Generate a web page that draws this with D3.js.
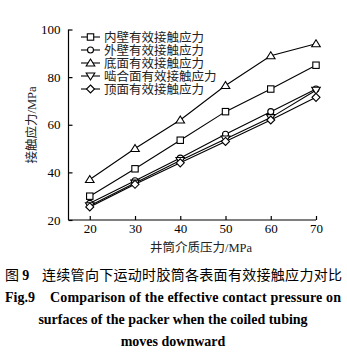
<!DOCTYPE html>
<html><head><meta charset="utf-8">
<script src="https://cdn.jsdelivr.net/npm/d3@7"></script>
<style>
body{margin:0;background:#fff;}
svg{display:block;}
</style></head>
<body>
<svg id="c" width="347" height="354"></svg>
<script>
const pressures = [20, 30, 40, 50, 60, 70];
const innerWall = [30, 41.5, 53.5, 65.5, 75, 85];
const outerWall = [27, 36.5, 46, 56, 65.5, 75];
const bottomFace = [37, 50, 62, 76.5, 89, 94];
const meshFace = [26, 35.5, 45, 54, 63, 74.5];
const topFace = [25.5, 35, 44, 53, 62, 71.5];
const seriesNames = ["内壁有效接触应力", "外壁有效接触应力", "底面有效接触应力", "啮合面有效接触应力", "顶面有效接触应力"];
const markers = ["square", "circle", "triangle", "down", "diamond"];
const xTicks = [20, 30, 40, 50, 60, 70];
const yTicks = [20, 40, 60, 80, 100];
const xLabel = "井筒介质压力/MPa";
const yLabel = "接触应力/MPa";
const captionCN = "连续管向下运动时胶筒各表面有效接触应力对比";
const captionEN = ["Comparison of the effective contact pressure on", "surfaces of the packer when the coiled tubing", "moves downward"];

const seriesData = [innerWall, outerWall, bottomFace, meshFace, topFace];
const svg = d3.select("#c");
const serif = "'Liberation Serif','Times New Roman',serif";
const cjk = "'Liberation Serif','Noto Sans CJK SC',serif";

const x = d3.scaleLinear().domain([15.3, 70]).range([68.5, 316]);
const y = d3.scaleLinear().domain([20, 100]).range([220, 29.5]);

const g = svg.append("g");
const xa = g.append("g").attr("transform", "translate(0,220)")
  .call(d3.axisBottom(x).tickValues(xTicks).tickSize(-4).tickPadding(4).tickSizeOuter(0));
const ya = g.append("g").attr("transform", "translate(68.5,0)")
  .call(d3.axisLeft(y).tickValues(yTicks).tickSize(-4).tickPadding(8).tickSizeOuter(0));
[xa, ya].forEach(a => {
  a.selectAll("path,line").attr("stroke", "#000").attr("stroke-width", 1.2);
  a.selectAll("text").attr("font-family", serif).attr("font-size", 13).attr("fill", "#000");
});
xa.select("path").attr("d", `M${68.5},0H${316}`);
ya.select("path").attr("d", `M0,${220}V${29.5}`);

g.append("text").attr("x", 201).attr("y", 252).attr("text-anchor", "middle")
  .attr("font-family", cjk).attr("font-size", 12.5).attr("fill", "#222").text(xLabel);
g.append("text").attr("transform", "translate(36,125) rotate(-90)").attr("text-anchor", "middle")
  .attr("font-family", cjk).attr("font-size", 12.5).attr("fill", "#222").text(yLabel);

function drawMarker(sel, type, cx, cy) {
  const s = 3.2;
  let el;
  if (type === "square") el = sel.append("rect").attr("x", cx - s).attr("y", cy - s).attr("width", 2 * s).attr("height", 2 * s);
  else if (type === "circle") el = sel.append("circle").attr("cx", cx).attr("cy", cy).attr("r", 3);
  else if (type === "triangle") el = sel.append("path").attr("d", `M${cx},${cy - 4}L${cx + 4.3},${cy + 3}L${cx - 4.3},${cy + 3}Z`);
  else if (type === "down") el = sel.append("path").attr("d", `M${cx},${cy + 4}L${cx + 4.3},${cy - 3}L${cx - 4.3},${cy - 3}Z`);
  else el = sel.append("path").attr("d", `M${cx},${cy - 4}L${cx + 4},${cy}L${cx},${cy + 4}L${cx - 4},${cy}Z`);
  el.attr("fill", "#fff").attr("stroke", "#000").attr("stroke-width", 1.1);
}

const line = d3.line().x((d, i) => x(pressures[i])).y(d => y(d));
seriesData.forEach((vals, k) => {
  g.append("path").attr("d", line(vals)).attr("fill", "none").attr("stroke", "#000").attr("stroke-width", 1.1);
});
seriesData.forEach((vals, k) => {
  const mg = g.append("g");
  vals.forEach((v, i) => drawMarker(mg, markers[k], x(pressures[i]), y(v)));
});

// legend
seriesNames.forEach((name, k) => {
  const ly = 37 + k * 13;
  g.append("line").attr("x1", 81).attr("x2", 100).attr("y1", ly).attr("y2", ly).attr("stroke", "#000").attr("stroke-width", 1.1);
  drawMarker(g, markers[k], 90.5, ly);
  g.append("text").attr("x", 104).attr("y", ly + 4.5).attr("font-family", cjk).attr("font-size", 12.5).attr("fill", "#222").text(name);
});

// caption
const cap = svg.append("text").attr("x", 5).attr("y", 280).attr("font-size", 14).attr("fill", "#000");
cap.append("tspan").attr("font-family", "'Noto Sans CJK SC',sans-serif").text("图 ");
cap.append("tspan").attr("font-family", serif).attr("font-weight", "bold").text("9");
cap.append("tspan").attr("x", 42).attr("font-family", "'Noto Sans CJK SC',sans-serif").attr("textLength", 300).text(captionCN);

const en = svg.append("text").attr("x", 5).attr("y", 302).attr("font-family", serif).attr("font-weight", "bold").attr("font-size", 14).attr("fill", "#000");
en.append("tspan").text("Fig.9");
en.append("tspan").attr("x", 50).attr("textLength", 291).text(captionEN[0]);
svg.append("text").attr("x", 173).attr("y", 324).attr("text-anchor", "middle").attr("font-family", serif).attr("font-weight", "bold").attr("font-size", 14).text(captionEN[1]);
svg.append("text").attr("x", 173).attr("y", 346).attr("text-anchor", "middle").attr("font-family", serif).attr("font-weight", "bold").attr("font-size", 14).text(captionEN[2]);
</script>
</body></html>
